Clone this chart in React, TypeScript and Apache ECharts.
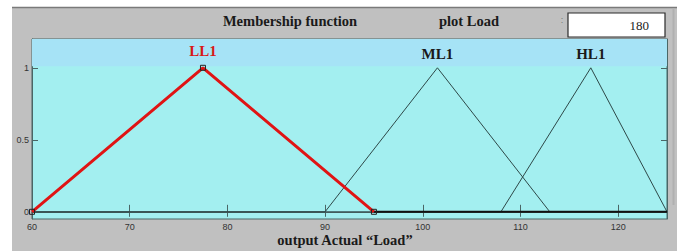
import React, { useEffect, useRef } from "react";
import * as echarts from "echarts";

// ---- data ----
const xTicks = [60, 70, 80, 90, 100, 110, 120];
const yTicks = [0, 0.5, 1];
const ll1Points: [number, number][] = [[60, 0], [77.5, 1], [95, 0]];
const ml1Points: [number, number][] = [[60, 0], [90, 0], [101.5, 1], [113, 0], [125, 0]];
const hl1Points: [number, number][] = [[60, 0], [108, 0], [117.2, 1], [125, 0]];
const zeroTail: [number, number][] = [[95, 0], [125, 0]];
const mfNames = ["LL1", "ML1", "HL1"];
const inputValue = "180";

const serif = "'Liberation Serif', 'Times New Roman', serif";
const sans = "'Liberation Sans', Arial, sans-serif";

function withPeakLabel(points: [number, number][], name: string, color: string) {
  return points.map((p) =>
    p[1] === 1
      ? {
          value: p,
          label: {
            show: true,
            position: "top",
            distance: 6,
            formatter: name,
            color,
            fontFamily: serif,
            fontWeight: "bold",
            fontSize: 15,
          },
        }
      : { value: p }
  );
}

export default function App() {
  const ref = useRef<HTMLDivElement>(null);
  useEffect(() => {
    if (!ref.current) return;
    const chart = echarts.init(ref.current, null, { renderer: "svg" });
    const axisColor = "#4a6666";
    chart.setOption({
      animation: false,
      backgroundColor: "#ffffff",
      grid: {
        left: 32,
        right: 10,
        top: 39,
        height: 180,
        show: true,
        backgroundColor: "#a3eff0",
        borderColor: axisColor,
        borderWidth: 1,
      },
      graphic: [
        { type: "rect", z: -10, shape: { x: 12, y: 8, width: 665, height: 243 }, style: { fill: "#c0c0c0" } },
        { type: "line", z: -9, shape: { x1: 12, y1: 7.5, x2: 677, y2: 7.5 }, style: { stroke: "#7a7a7a", lineWidth: 1.5 } },
        { type: "line", z: -9, shape: { x1: 673.5, y1: 8, x2: 673.5, y2: 205 }, style: { stroke: "#b0b0b0", lineWidth: 2 } },
        {
          type: "text", x: 290, y: 21,
          style: { text: "Membership function", fill: "#1a1a1a", font: `bold 14.5px ${serif}`, textAlign: "center", textVerticalAlign: "middle" },
        },
        {
          type: "text", x: 469, y: 21,
          style: { text: "plot Load", fill: "#1a1a1a", font: `bold 14.5px ${serif}`, textAlign: "center", textVerticalAlign: "middle" },
        },
        {
          type: "text", x: 562, y: 20,
          style: { text: ":", fill: "#777", font: `9px ${sans}`, textAlign: "center", textVerticalAlign: "middle" },
        },
        { type: "rect", shape: { x: 568, y: 13, width: 97, height: 24 }, style: { fill: "#ffffff", stroke: "#2a2a2a", lineWidth: 1.2 } },
        {
          type: "text", x: 649, y: 25,
          style: { text: inputValue, fill: "#1a1a1a", font: `13px ${serif}`, textAlign: "right", textVerticalAlign: "middle" },
        },
        {
          type: "text", x: 345, y: 240,
          style: { text: "output Actual \u201cLoad\u201d", fill: "#1a1a1a", font: `bold 14.5px ${serif}`, textAlign: "center", textVerticalAlign: "middle" },
        },
      ],
      xAxis: [
        {
          type: "value",
          min: 60,
          max: 125,
          interval: 10,
          position: "bottom",
          axisLine: { show: true, lineStyle: { color: axisColor } },
          axisTick: { show: true, inside: true, length: 7, lineStyle: { color: axisColor }, customValues: xTicks },
          axisLabel: { show: true, color: "#333", fontSize: 9, fontFamily: sans, margin: 3, customValues: xTicks },
          splitLine: { show: false },
        },
        {
          type: "value",
          min: 60,
          max: 125,
          interval: 10,
          position: "top",
          axisLine: { show: true, lineStyle: { color: axisColor } },
          axisTick: { show: true, inside: true, length: 5, lineStyle: { color: axisColor }, customValues: xTicks },
          axisLabel: { show: false },
          splitLine: { show: false },
        },
      ],
      yAxis: [
        {
          type: "value",
          min: -0.05,
          max: 1.2,
          position: "left",
          axisLine: { show: true, lineStyle: { color: axisColor } },
          axisTick: { show: true, inside: true, length: 6, lineStyle: { color: axisColor }, customValues: yTicks },
          axisLabel: { show: true, color: "#333", fontSize: 9, fontFamily: sans, margin: 3, customValues: yTicks },
          splitLine: { show: false },
        },
        {
          type: "value",
          min: -0.05,
          max: 1.2,
          position: "right",
          axisLine: { show: true, lineStyle: { color: axisColor } },
          axisTick: { show: true, inside: true, length: 6, lineStyle: { color: axisColor }, customValues: yTicks },
          axisLabel: { show: false },
          splitLine: { show: false },
        },
      ],
      series: [
        {
          type: "line",
          name: "band",
          data: [],
          markArea: {
            silent: true,
            itemStyle: { color: "#a6e3f6" },
            data: [[{ yAxis: 1.01, xAxis: 60 }, { yAxis: 1.2, xAxis: 125 }]],
          },
          z: 0,
        },
        {
          type: "line",
          name: mfNames[1],
          data: withPeakLabel(ml1Points, mfNames[1], "#1a1a1a"),
          showSymbol: true,
          symbol: "circle",
          symbolSize: 0.01,
          itemStyle: { color: "rgba(0,0,0,0)" },
          lineStyle: { color: "#2e4848", width: 1 },
          z: 2,
        },
        {
          type: "line",
          name: mfNames[2],
          data: withPeakLabel(hl1Points, mfNames[2], "#1a1a1a"),
          showSymbol: true,
          symbol: "circle",
          symbolSize: 0.01,
          itemStyle: { color: "rgba(0,0,0,0)" },
          lineStyle: { color: "#2e4848", width: 1 },
          z: 2,
        },
        {
          type: "line",
          name: "zero",
          data: zeroTail,
          symbol: "none",
          lineStyle: { color: "#111", width: 2 },
          z: 3,
        },
        {
          type: "line",
          name: mfNames[0],
          data: withPeakLabel(ll1Points, mfNames[0], "#d81818"),
          showSymbol: true,
          symbol: "rect",
          symbolSize: 5,
          itemStyle: { color: "rgba(0,0,0,0)", borderColor: "#222", borderWidth: 1 },
          lineStyle: { color: "#e01414", width: 3 },
          z: 4,
        },
      ],
    });
    return () => chart.dispose();
  }, []);
  return (
    <div
      ref={ref}
      style={{ position: "fixed", left: 0, top: 0, width: 677, height: 251 }}
    />
  );
}
